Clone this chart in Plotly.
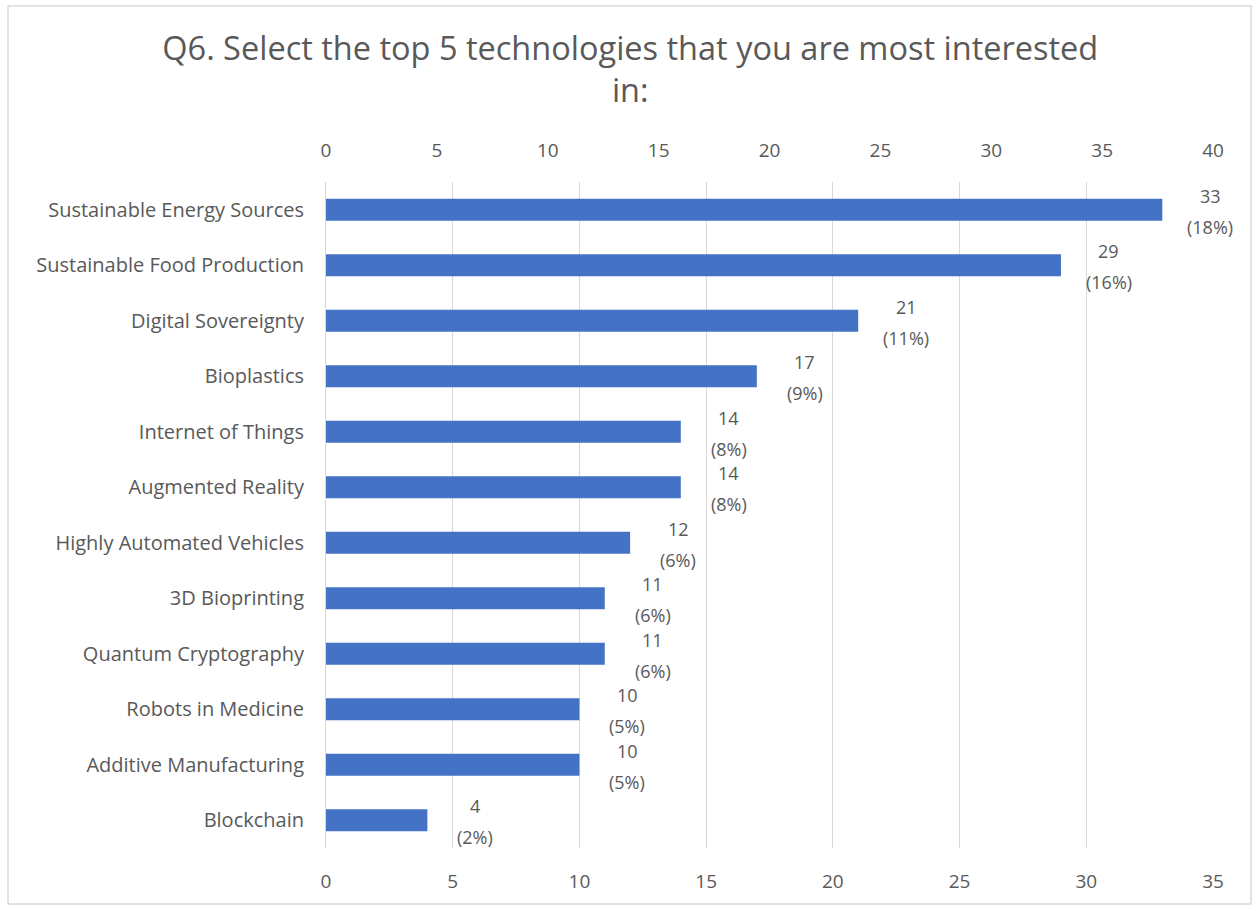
import plotly.graph_objects as go

categories = ["Sustainable Energy Sources", "Sustainable Food Production", "Digital Sovereignty",
              "Bioplastics", "Internet of Things", "Augmented Reality", "Highly Automated Vehicles",
              "3D Bioprinting", "Quantum Cryptography", "Robots in Medicine",
              "Additive Manufacturing", "Blockchain"]
counts = [33, 29, 21, 17, 14, 14, 12, 11, 11, 10, 10, 4]
percents = ["18%", "16%", "11%", "9%", "8%", "8%", "6%", "6%", "6%", "5%", "5%", "2%"]
bottom_ticks = [0, 5, 10, 15, 20, 25, 30, 35]
top_ticks = [0, 5, 10, 15, 20, 25, 30, 35, 40]

FONT = "Open Sans"
GREY = "#595959"

fig = go.Figure()
fig.add_trace(go.Bar(x=counts, y=categories, orientation="h",
                     marker=dict(color="#4472C4", line=dict(width=0)),
                     hoverinfo="x+y"))
# invisible helper trace so the secondary (top) axis is drawn
fig.add_trace(go.Scatter(x=[top_ticks[0], top_ticks[-1]], y=[categories[0], categories[0]],
                         xaxis="x2", mode="markers", marker=dict(opacity=0, size=1),
                         hoverinfo="skip", showlegend=False))

annotations = []
for c, v, p in zip(categories, counts, percents):
    annotations.append(dict(x=v, y=c, xref="x", yref="y", text=str(v), showarrow=False,
                            xanchor="center", yanchor="middle", xshift=48, yshift=14,
                            font=dict(family=FONT, size=18, color=GREY)))
    annotations.append(dict(x=v, y=c, xref="x", yref="y", text="(" + p + ")", showarrow=False,
                            xanchor="center", yanchor="middle", xshift=48, yshift=-17,
                            font=dict(family=FONT, size=18, color=GREY)))

n = len(categories)
fig.update_layout(
    width=1253, height=905,
    margin=dict(l=326, r=40, t=182, b=57),
    paper_bgcolor="white", plot_bgcolor="white",
    showlegend=False,
    bargap=0.6,
    title=dict(text="Q6. Select the top 5 technologies that you are most interested<br>in:",
               x=0.503, xanchor="center", y=0.934, yanchor="top",
               font=dict(family=FONT, size=32.5, color=GREY)),
    xaxis=dict(range=[0, 35], tickvals=bottom_ticks, showgrid=True, gridcolor="#d9d9d9",
               gridwidth=1, zeroline=False, showline=False, ticks="", automargin=False,
               tickfont=dict(family=FONT, size=19, color=GREY), ticklabelstandoff=20),
    xaxis2=dict(range=[0, 40], tickvals=top_ticks, overlaying="x", side="top",
                showgrid=False, zeroline=False, showline=False, ticks="", automargin=False,
                tickfont=dict(family=FONT, size=19, color=GREY), ticklabelstandoff=20),
    yaxis=dict(range=[n - 0.5, -0.5], showline=True, linecolor="#d9d9d9", linewidth=1,
               ticks="", showgrid=False, automargin=False,
               tickfont=dict(family=FONT, size=20, color=GREY), ticklabelstandoff=17),
    annotations=annotations,
    shapes=[dict(type="rect", xref="paper", yref="paper",
                 x0=(8 - 326) / 887, x1=(1251 - 326) / 887,
                 y0=(848 - 904) / 666, y1=(848 - 6) / 666,
                 line=dict(color="#d9d9d9", width=1.5), fillcolor="rgba(0,0,0,0)", layer="below")],
)

fig.write_html("out.html")
